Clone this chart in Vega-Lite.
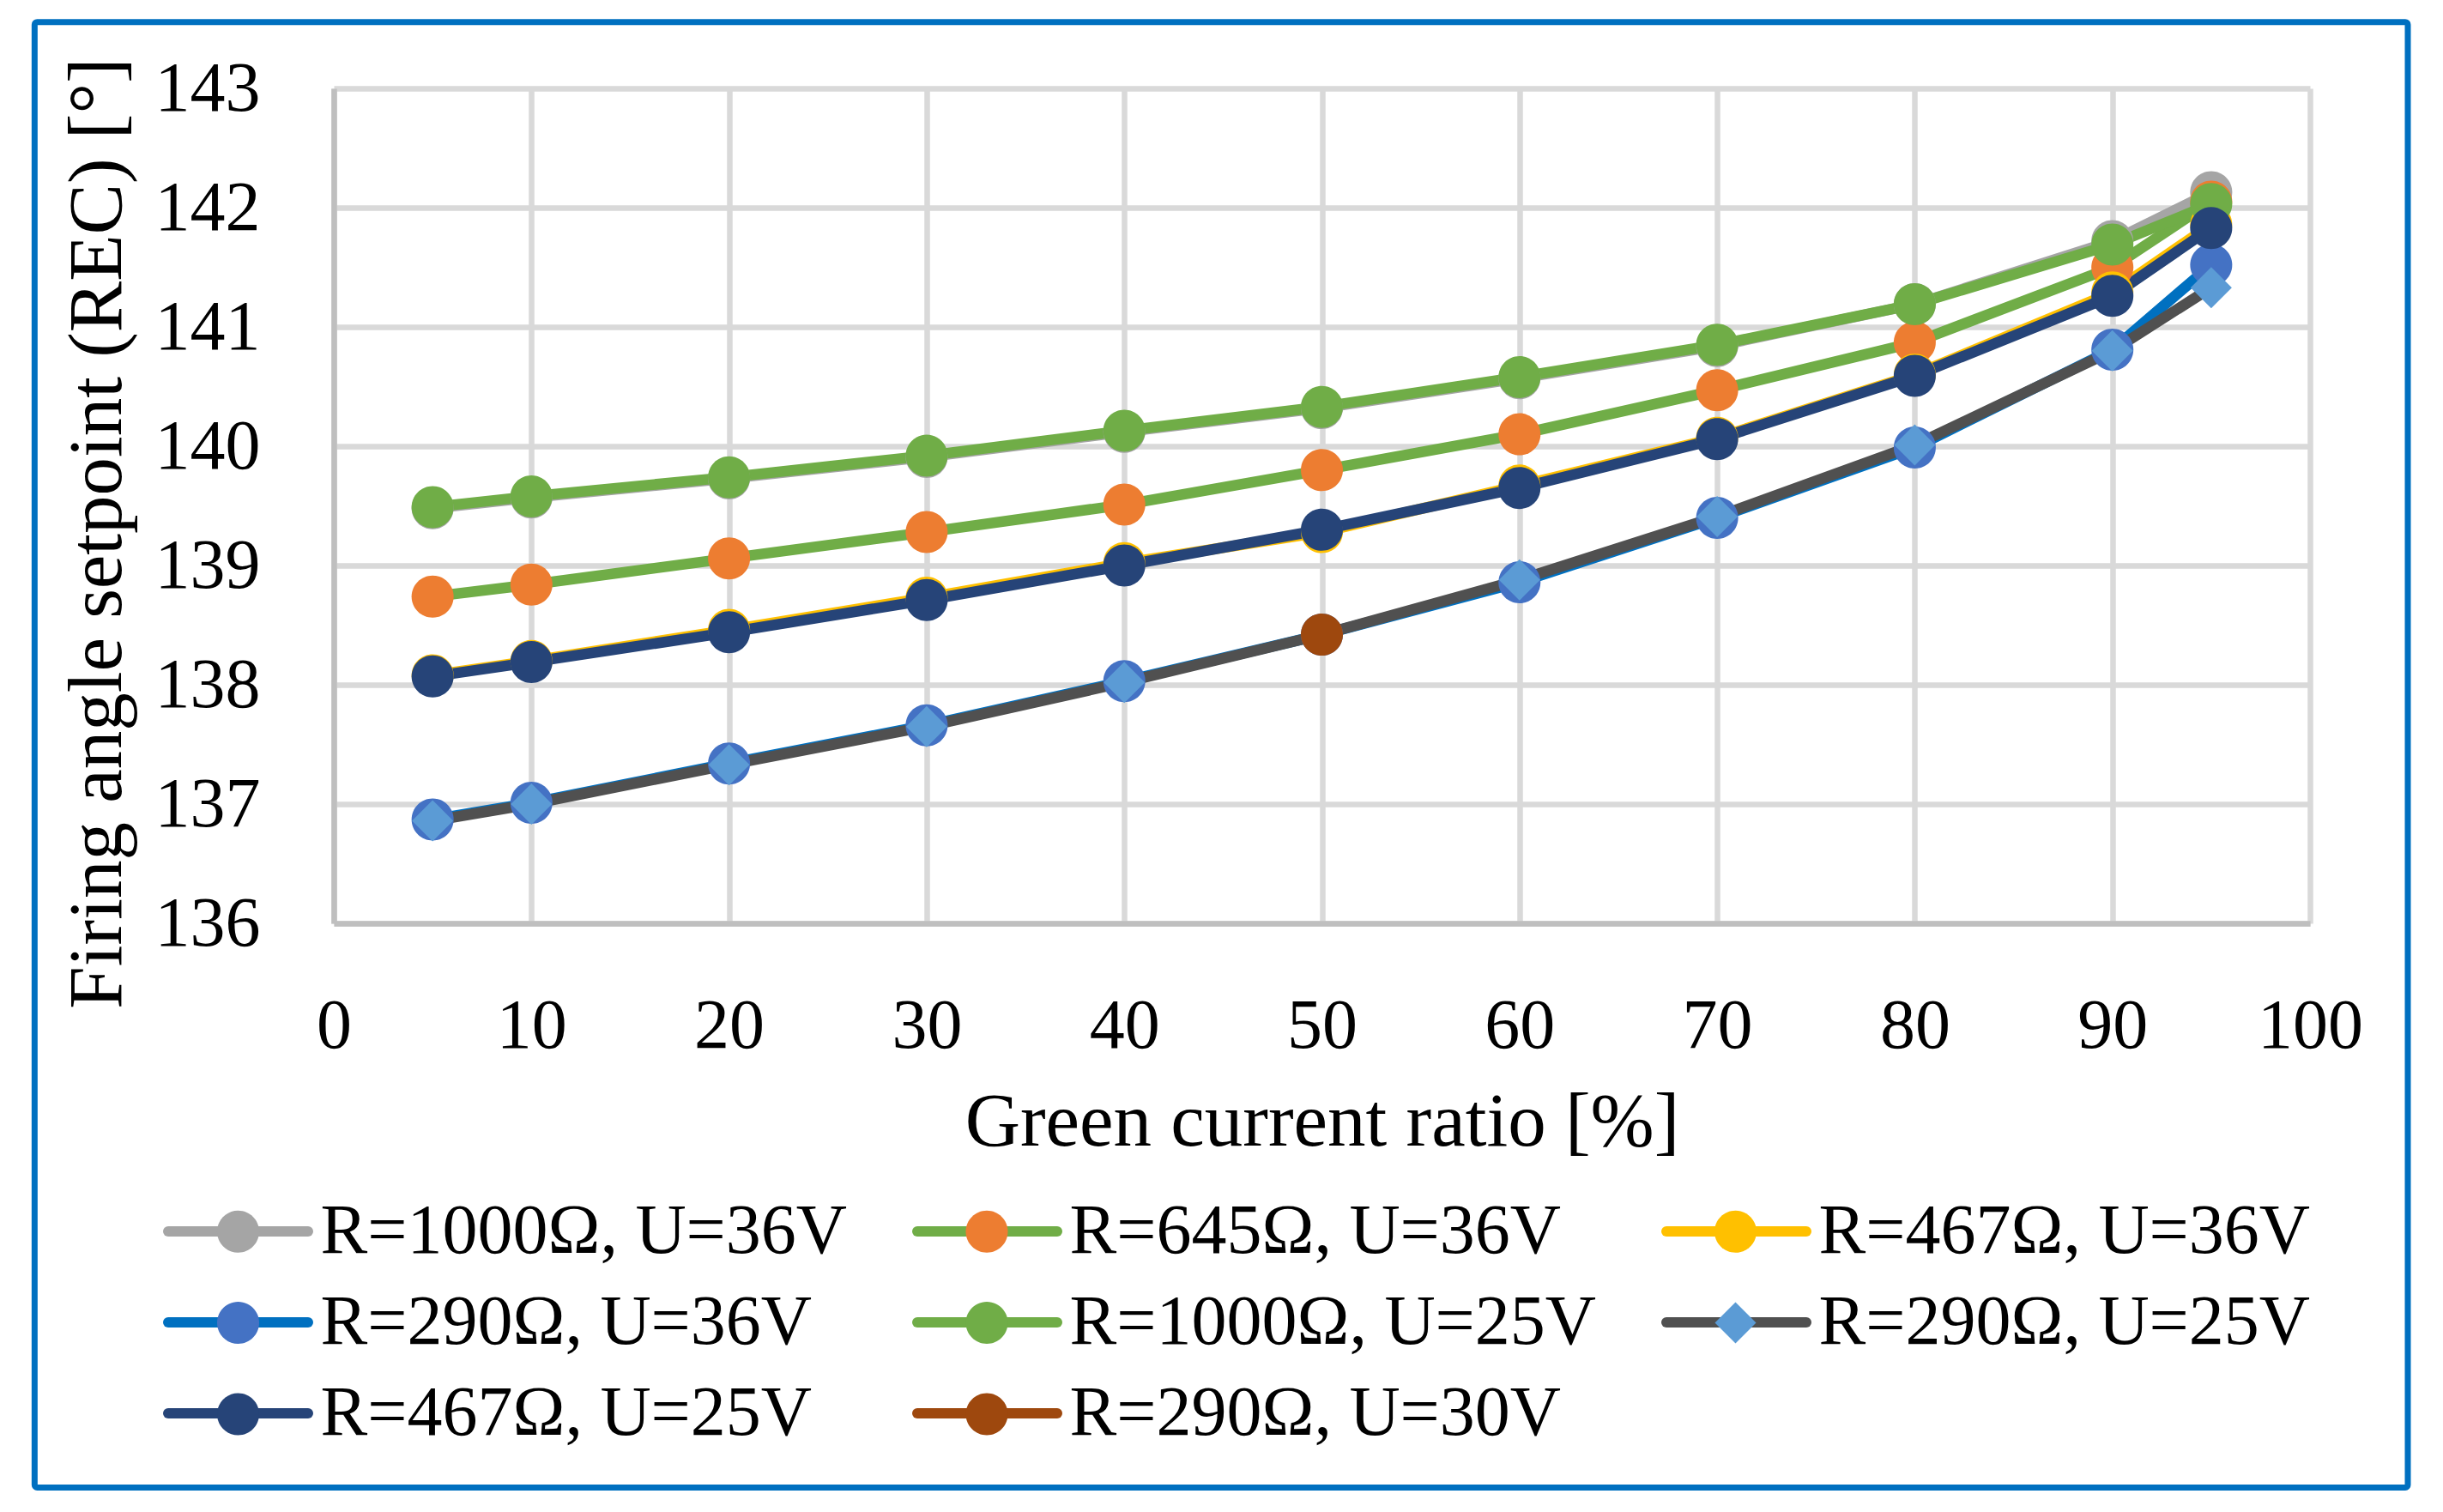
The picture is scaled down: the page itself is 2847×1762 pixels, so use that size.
{
  "$schema": "https://vega.github.io/schema/vega-lite/v6.json",
  "width": 2303,
  "height": 973,
  "autosize": {"type": "none"},
  "padding": {"left": 389, "top": 103, "right": 155, "bottom": 686},
  "background": "white",
  "config": {
    "view": {"stroke": null},
    "font": "Liberation Serif",
    "legend": {
      "orient": "none", "legendX": -199, "legendY": 1291, "columns": 3, "direction": "horizontal",
      "title": null, "padding": 0, "symbolSize": 400, "symbolStrokeWidth": 12, "symbolOffset": 46.5,
      "labelOffset": 55, "labelFont": "Liberation Serif", "labelFontSize": 82, "labelColor": "black",
      "labelLimit": 1000, "columnPadding": 57, "rowPadding": 24, "symbolOpacity": 1
    }
  },
  "data": {
    "values": [
      {"s": "R=1000Ω, U=36V", "x": 5, "y": 139.48},
      {"s": "R=1000Ω, U=36V", "x": 10, "y": 139.57},
      {"s": "R=1000Ω, U=36V", "x": 20, "y": 139.73},
      {"s": "R=1000Ω, U=36V", "x": 30, "y": 139.91},
      {"s": "R=1000Ω, U=36V", "x": 40, "y": 140.12},
      {"s": "R=1000Ω, U=36V", "x": 50, "y": 140.32},
      {"s": "R=1000Ω, U=36V", "x": 60, "y": 140.57},
      {"s": "R=1000Ω, U=36V", "x": 70, "y": 140.84},
      {"s": "R=1000Ω, U=36V", "x": 80, "y": 141.19},
      {"s": "R=1000Ω, U=36V", "x": 90, "y": 141.72},
      {"s": "R=1000Ω, U=36V", "x": 95, "y": 142.13},
      {"s": "R=645Ω, U=36V", "x": 5, "y": 138.74},
      {"s": "R=645Ω, U=36V", "x": 10, "y": 138.84},
      {"s": "R=645Ω, U=36V", "x": 20, "y": 139.06},
      {"s": "R=645Ω, U=36V", "x": 30, "y": 139.28},
      {"s": "R=645Ω, U=36V", "x": 40, "y": 139.51},
      {"s": "R=645Ω, U=36V", "x": 50, "y": 139.80},
      {"s": "R=645Ω, U=36V", "x": 60, "y": 140.10},
      {"s": "R=645Ω, U=36V", "x": 70, "y": 140.47},
      {"s": "R=645Ω, U=36V", "x": 80, "y": 140.87},
      {"s": "R=645Ω, U=36V", "x": 90, "y": 141.50},
      {"s": "R=645Ω, U=36V", "x": 95, "y": 142.05},
      {"s": "R=467Ω, U=36V", "x": 5, "y": 138.08},
      {"s": "R=467Ω, U=36V", "x": 10, "y": 138.20},
      {"s": "R=467Ω, U=36V", "x": 20, "y": 138.46},
      {"s": "R=467Ω, U=36V", "x": 30, "y": 138.73},
      {"s": "R=467Ω, U=36V", "x": 40, "y": 139.02},
      {"s": "R=467Ω, U=36V", "x": 50, "y": 139.28},
      {"s": "R=467Ω, U=36V", "x": 60, "y": 139.67},
      {"s": "R=467Ω, U=36V", "x": 70, "y": 140.07},
      {"s": "R=467Ω, U=36V", "x": 80, "y": 140.60},
      {"s": "R=467Ω, U=36V", "x": 90, "y": 141.29},
      {"s": "R=467Ω, U=36V", "x": 95, "y": 141.86},
      {"s": "R=290Ω, U=36V", "x": 5, "y": 136.87},
      {"s": "R=290Ω, U=36V", "x": 10, "y": 137.01},
      {"s": "R=290Ω, U=36V", "x": 20, "y": 137.34},
      {"s": "R=290Ω, U=36V", "x": 30, "y": 137.66},
      {"s": "R=290Ω, U=36V", "x": 40, "y": 138.03},
      {"s": "R=290Ω, U=36V", "x": 50, "y": 138.42},
      {"s": "R=290Ω, U=36V", "x": 60, "y": 138.86},
      {"s": "R=290Ω, U=36V", "x": 70, "y": 139.40},
      {"s": "R=290Ω, U=36V", "x": 80, "y": 139.99},
      {"s": "R=290Ω, U=36V", "x": 90, "y": 140.81},
      {"s": "R=290Ω, U=36V", "x": 95, "y": 141.52},
      {"s": "R=1000Ω, U=25V", "x": 5, "y": 139.49},
      {"s": "R=1000Ω, U=25V", "x": 10, "y": 139.58},
      {"s": "R=1000Ω, U=25V", "x": 20, "y": 139.74},
      {"s": "R=1000Ω, U=25V", "x": 30, "y": 139.92},
      {"s": "R=1000Ω, U=25V", "x": 40, "y": 140.13},
      {"s": "R=1000Ω, U=25V", "x": 50, "y": 140.33},
      {"s": "R=1000Ω, U=25V", "x": 60, "y": 140.58},
      {"s": "R=1000Ω, U=25V", "x": 70, "y": 140.85},
      {"s": "R=1000Ω, U=25V", "x": 80, "y": 141.19},
      {"s": "R=1000Ω, U=25V", "x": 90, "y": 141.69},
      {"s": "R=1000Ω, U=25V", "x": 95, "y": 142.03},
      {"s": "R=290Ω, U=25V", "x": 5, "y": 136.86},
      {"s": "R=290Ω, U=25V", "x": 10, "y": 137.00},
      {"s": "R=290Ω, U=25V", "x": 20, "y": 137.33},
      {"s": "R=290Ω, U=25V", "x": 30, "y": 137.65},
      {"s": "R=290Ω, U=25V", "x": 40, "y": 138.02},
      {"s": "R=290Ω, U=25V", "x": 50, "y": 138.42},
      {"s": "R=290Ω, U=25V", "x": 60, "y": 138.88},
      {"s": "R=290Ω, U=25V", "x": 70, "y": 139.41},
      {"s": "R=290Ω, U=25V", "x": 80, "y": 140.01},
      {"s": "R=290Ω, U=25V", "x": 90, "y": 140.80},
      {"s": "R=290Ω, U=25V", "x": 95, "y": 141.33},
      {"s": "R=467Ω, U=25V", "x": 5, "y": 138.07},
      {"s": "R=467Ω, U=25V", "x": 10, "y": 138.19},
      {"s": "R=467Ω, U=25V", "x": 20, "y": 138.44},
      {"s": "R=467Ω, U=25V", "x": 30, "y": 138.71},
      {"s": "R=467Ω, U=25V", "x": 40, "y": 139.00},
      {"s": "R=467Ω, U=25V", "x": 50, "y": 139.30},
      {"s": "R=467Ω, U=25V", "x": 60, "y": 139.65},
      {"s": "R=467Ω, U=25V", "x": 70, "y": 140.06},
      {"s": "R=467Ω, U=25V", "x": 80, "y": 140.59},
      {"s": "R=467Ω, U=25V", "x": 90, "y": 141.26},
      {"s": "R=467Ω, U=25V", "x": 95, "y": 141.83},
      {"s": "R=290Ω, U=30V", "x": 50, "y": 138.42}
    ]
  },
  "layer": [
    {
      "mark": {"type": "line", "strokeWidth": 12.5, "strokeCap": "round", "strokeJoin": "round"},
      "encoding": {
        "x": {
          "field": "x",
          "type": "quantitative",
          "title": "Green current ratio [%]",
          "scale": {"domain": [0, 100], "nice": false, "zero": false},
          "axis": {
            "values": [0, 10, 20, 30, 40, 50, 60, 70, 80, 90, 100],
            "format": "d",
            "grid": true,
            "gridColor": "#D9D9D9",
            "gridWidth": 6.5,
            "domainColor": "#BFBFBF",
            "domainWidth": 6.5,
            "ticks": false,
            "tickSize": 0,
            "labelFont": "Liberation Serif",
            "labelFontSize": 82,
            "labelColor": "black",
            "labelPadding": 79,
            "labelLimit": 500,
            "labelFlush": false,
            "labelOverlap": false,
            "titleFont": "Liberation Serif",
            "titleFontSize": 89,
            "titleFontWeight": "normal",
            "titleColor": "black",
            "titleBaseline": "alphabetic",
            "titleY": 258
          }
        },
        "y": {
          "field": "y",
          "type": "quantitative",
          "title": "Firing angle setpoint (REC) [°]",
          "scale": {"domain": [136, 143], "nice": false, "zero": false},
          "axis": {
            "values": [136, 137, 138, 139, 140, 141, 142, 143],
            "format": "d",
            "grid": true,
            "gridColor": "#D9D9D9",
            "gridWidth": 6.5,
            "domainColor": "#BFBFBF",
            "domainWidth": 6.5,
            "ticks": false,
            "tickSize": 0,
            "labelFont": "Liberation Serif",
            "labelFontSize": 82,
            "labelColor": "black",
            "labelPadding": 86,
            "labelLimit": 500,
            "labelFlush": false,
            "labelOverlap": false,
            "titleFont": "Liberation Serif",
            "titleFontSize": 89,
            "titleFontWeight": "normal",
            "titleColor": "black",
            "titleAngle": 270,
            "titleAlign": "center",
            "titleBaseline": "alphabetic",
            "titleX": -249,
            "titleY": 518
          }
        },
        "color": {
          "field": "s",
          "type": "nominal",
          "scale": {
            "domain": ["R=1000Ω, U=36V", "R=645Ω, U=36V", "R=467Ω, U=36V", "R=290Ω, U=36V", "R=1000Ω, U=25V", "R=290Ω, U=25V", "R=467Ω, U=25V", "R=290Ω, U=30V"],
            "range": ["#A5A5A5", "#70AD47", "#FFC000", "#0070C0", "#70AD47", "#505050", "#264478", "#9E480E"]
          },
          "legend": {
            "symbolType": "M-8.15,0H8.15", "zindex": 0,
            "encode": {"symbols": {"update": {"strokeCap": {"value": "round"}}}}
          }
        }
      }
    },
    {
      "mark": {"type": "point", "filled": true, "size": 400, "opacity": 1, "strokeWidth": 0},
      "encoding": {
        "x": {"field": "x", "type": "quantitative", "title": "Green current ratio [%]"},
        "y": {"field": "y", "type": "quantitative", "title": "Firing angle setpoint (REC) [°]"},
        "fill": {
          "field": "s",
          "type": "nominal",
          "sort": null,
          "scale": {"range": ["#A5A5A5", "#ED7D31", "#FFC000", "#4472C4", "#70AD47", "#5B9BD5", "#264478", "#9E480E"]},
          "legend": {"symbolStrokeColor": "transparent", "symbolStrokeWidth": 12, "labelOpacity": 0, "columnPadding": 74.5, "rowPadding": 8.5, "zindex": 1}
        },
        "shape": {
          "field": "s",
          "type": "nominal",
          "sort": null,
          "scale": {"range": [
            "M2.45,0A2.45,2.45,0,1,1,-2.45,0A2.45,2.45,0,1,1,2.45,0Z",
            "M2.45,0A2.45,2.45,0,1,1,-2.45,0A2.45,2.45,0,1,1,2.45,0Z",
            "M2.45,0A2.45,2.45,0,1,1,-2.45,0A2.45,2.45,0,1,1,2.45,0Z",
            "M2.45,0A2.45,2.45,0,1,1,-2.45,0A2.45,2.45,0,1,1,2.45,0Z",
            "M2.45,0A2.45,2.45,0,1,1,-2.45,0A2.45,2.45,0,1,1,2.45,0Z",
            "M0,-2.4L2.4,0L0,2.4L-2.4,0Z",
            "M2.45,0A2.45,2.45,0,1,1,-2.45,0A2.45,2.45,0,1,1,2.45,0Z",
            "M2.45,0A2.45,2.45,0,1,1,-2.45,0A2.45,2.45,0,1,1,2.45,0Z"
          ]},
          "legend": {"symbolStrokeColor": "transparent", "symbolStrokeWidth": 12, "labelOpacity": 0, "columnPadding": 74.5, "rowPadding": 8.5, "zindex": 1}
        }
      }
    },
    {
      "data": {"values": [{"frame": 1}]},
      "mark": {"type": "rect", "filled": false, "stroke": "#0070C0", "strokeWidth": 7, "cornerRadius": 3},
      "encoding": {
        "x": {"datum": -15.14, "type": "quantitative", "title": "Green current ratio [%]"},
        "x2": {"datum": 104.95},
        "y": {"datum": 143.556, "type": "quantitative", "title": "Firing angle setpoint (REC) [°]"},
        "y2": {"datum": 131.27}
      }
    }
  ]
}
